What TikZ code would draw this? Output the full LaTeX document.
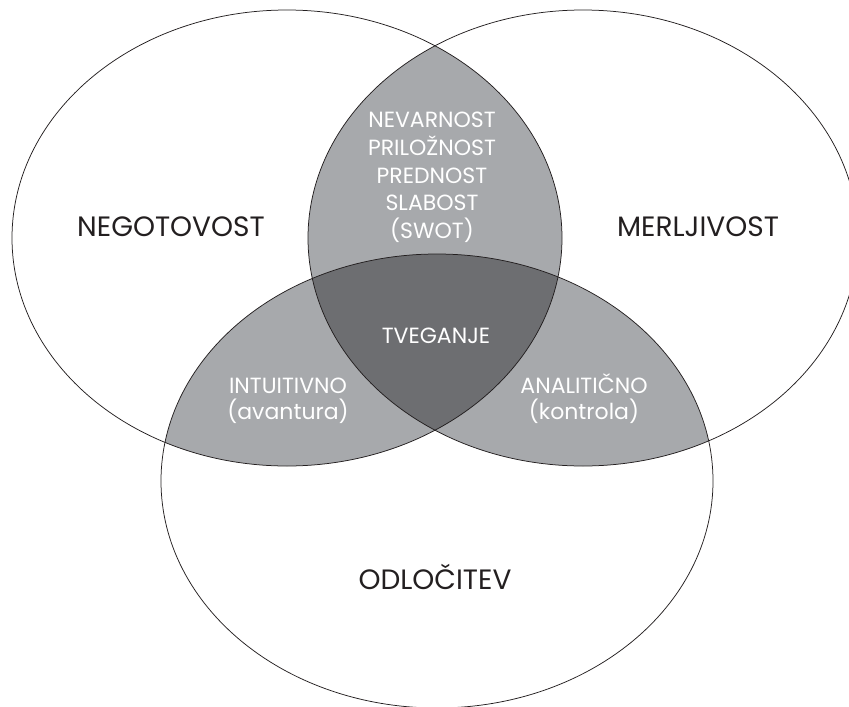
\documentclass[tikz,border=0pt]{standalone}
\usepackage{fontspec}
\setmainfont{Poppins}
\begin{document}
\definecolor{pairgray}{HTML}{A7A9AC}
\definecolor{coregray}{HTML}{6D6E71}
\definecolor{inkblack}{HTML}{231F20}
\begin{tikzpicture}[x=1pt,y=-1pt,
  outline/.style={draw=inkblack,line width=0.75pt},
  biglabel/.style={anchor=base,inner sep=0pt,text=inkblack,font=\fontsize{28}{31}\selectfont},
  smalllabel/.style={anchor=base,inner sep=0pt,text=white,font=\fontsize{22}{25}\selectfont}]
\useasboundingbox (0,0) rectangle (849,707);
\clip (0,0) rectangle (849,707);
% the three sets
\def\setL{(287,238) ellipse [x radius=275,y radius=228]}
\def\setR{(583,238) ellipse [x radius=275,y radius=228]}
\def\setB{(437,481) ellipse [x radius=276,y radius=227]}
% pairwise overlaps
\begin{scope}\clip \setL; \fill[pairgray] \setR; \end{scope}
\begin{scope}\clip \setL; \fill[pairgray] \setB; \end{scope}
\begin{scope}\clip \setR; \fill[pairgray] \setB; \end{scope}
% common core
\begin{scope}\clip \setL; \clip \setR; \fill[coregray] \setB; \end{scope}
% outlines
\draw[outline] \setL;
\draw[outline] \setR;
\draw[outline] \setB;
% labels
\node[biglabel] (neg) at (171,236) {NEGOTOVOST};
\node[biglabel] (mer) at (698,236) {MERLJIVOST};
\node[biglabel] (odl) at (435,589) {ODLOČITEV};
\node[smalllabel] (s1) at (432,127) {NEVARNOST};
\node[smalllabel] (s2) at (432,155) {PRILOŽNOST};
\node[smalllabel] (s3) at (432,183) {PREDNOST};
\node[smalllabel] (s4) at (432,210) {SLABOST};
\node[smalllabel] (s5) at (432,238) {(SWOT)};
\node[smalllabel] (tve) at (436,343) {TVEGANJE};
\node[smalllabel] (int) at (288,393) {INTUITIVNO};
\node[smalllabel] (ava) at (288,419) {(avantura)};
\node[smalllabel] (ana) at (584,393) {ANALITIČNO};
\node[smalllabel] (kon) at (584,419) {(kontrola)};
\end{tikzpicture}
\end{document}
